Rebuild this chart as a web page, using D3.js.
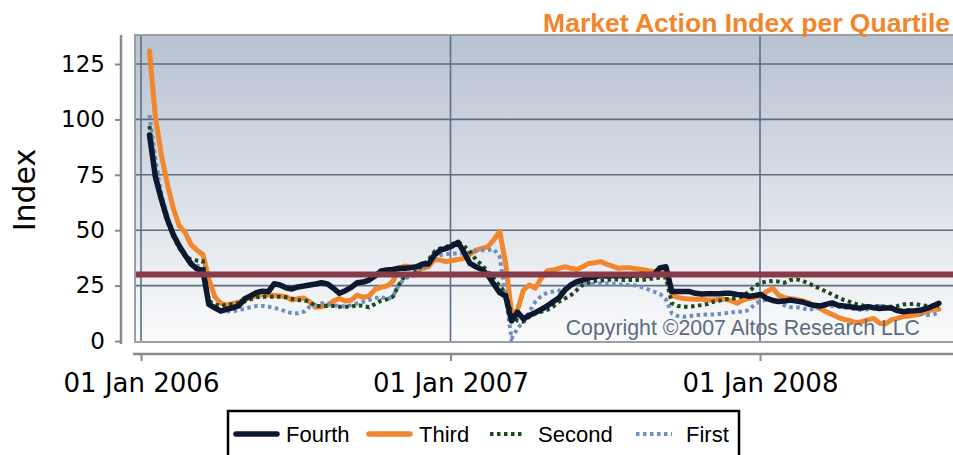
<!DOCTYPE html>
<html>
<head>
<meta charset="utf-8">
<script src="https://cdn.jsdelivr.net/npm/d3@7"></script>
<style>
  body { margin: 0; background: #fff; }
  svg { display: block; }
</style>
</head>
<body>
<div id="chart"></div>
<script>
// Market Action Index per Quartile - weekly values
var startDate = new Date(2006, 0, 11);

var fourth = [93, 74, 64, 55, 48, 43, 38.7, 34.8, 32.6, 31.8,
  16.5, 15, 13.5, 14.3, 15, 15.8, 19, 20.3, 21.8, 22.5,
  22.2, 25.8, 25.3, 24, 23.5, 24.4, 24.8, 25.3, 25.7, 26.3,
  25.7, 23.8, 21.5, 22.7, 24.2, 26.3, 26.6, 27.5, 29.3, 31.6,
  32, 32.3, 32.8, 32.8, 33.1, 33.5, 34.7, 34.7, 38.8, 41,
  41.8, 42.9, 44.5, 40, 35, 33.5, 32.3, 29.8, 25.7, 21.8,
  20.3, 9, 13, 10, 11.6, 12.8, 14.3, 15.8, 17.7, 19.5,
  23, 25.3, 26.8, 27.5, 28.5, 29, 29.5, 29.3, 29.5, 29.5,
  29.5, 29.6, 29.8, 30, 29.5, 30, 33, 33.5, 22.3, 22.3,
  22.3, 22.3, 21.5, 21.2, 21.3, 21.3, 21.3, 21.5, 21.5, 21,
  20.8, 20.2, 20.5, 21, 19.2, 18.3, 17.8, 18, 18.5, 18,
  17.6, 16.7, 16.1, 15.8, 16.5, 17.2, 16.1, 15.8, 15.5, 15,
  14.9, 15.5, 15, 14.7, 14.9, 14.9, 13.7, 13.2, 13.5, 13.7,
  14, 14.7, 15.8, 17];

var third = [131, 101, 84, 71, 60, 52, 49, 43.5, 41, 39,
  28, 20, 17, 16.3, 16.7, 17.6, 18.5, 19.7, 20.3, 20.8,
  20.8, 20.5, 20.3, 20, 18.5, 19.1, 19.4, 17.7, 15.2, 15.5,
  16.2, 18, 19.2, 18, 18.5, 20.7, 19.7, 20.3, 23.3, 24.2,
  24.8, 26.8, 32.8, 33.8, 33.5, 32.8, 32.8, 33.5, 36.8, 36.5,
  35.8, 36.3, 36.8, 37.3, 39.2, 41, 41.8, 42.5, 45.6, 49.5,
  35, 13, 14, 23, 25.3, 23.8, 28.3, 31.7, 32, 32.8,
  33.5, 32.8, 32.3, 33.5, 35, 35.3, 35.8, 34.7, 33.8, 32.8,
  33.1, 33, 32.6, 32.3, 31.7, 31.4, 31.7, 31.4, 20.7, 19.7,
  19.2, 19, 18.8, 18.8, 18.5, 18.5, 18.8, 18.8, 18.2, 17,
  18.5, 19.2, 19.7, 20.3, 22.3, 23.8, 20.7, 19.5, 19.1, 18.8,
  18.2, 17.3, 15.8, 14.6, 13.2, 12, 10.7, 9.8, 9.2, 8.3,
  8.7, 9.5, 10.2, 8, 7.7, 9.5, 10.2, 11, 11.3, 11.7,
  12.2, 13.2, 14.3, 14.3];

var second = [97, 76, 63, 54, 47.5, 42, 38.3, 36.8, 36.3, 36,
  18, 16.5, 15.8, 16.3, 16.7, 17, 17.8, 18.8, 19.7, 20,
  20, 20, 20, 19.7, 19.1, 18.5, 18.4, 17.7, 15.8, 15.8,
  15.8, 15.8, 15.5, 15.5, 15.5, 16.2, 15.8, 15.2, 16.7, 18.2,
  18.8, 20, 25.3, 29.3, 30.5, 31.3, 34.3, 36.5, 40.3, 41.8,
  42.5, 43.8, 44.6, 42.9, 40.3, 36.8, 34.3, 31.3, 28.3, 24.8,
  21.8, 12, 9.2, 8.7, 11, 12.8, 13.2, 14, 15.5, 17.7,
  19.2, 20.7, 23, 25.3, 26.3, 27.1, 27.2, 27.5, 27.8, 27.8,
  27.5, 27.5, 27.5, 27.5, 27.8, 28.3, 28.7, 28.7, 17, 15.8,
  15.5, 15.5, 15.8, 16.2, 16.7, 17.7, 18.2, 18.8, 19.1, 19.5,
  20.3, 22.3, 24.8, 26.3, 26.8, 27.1, 26.8, 26.3, 27.5, 27.8,
  27.2, 26, 24.8, 23.6, 22.3, 21, 19.7, 18.5, 17.7, 16.7,
  16.1, 15.5, 15.5, 15.8, 15.5, 15.5, 15.8, 16.5, 16.7, 16.7,
  16.2, 15.8, 16, 15.8];

var first = [102, 82, 66, 56, 49, 43, 38.5, 35.5, 34, 33.5,
  18, 16, 14, 13.3, 13.3, 14, 14.5, 15.2, 15.8, 15.8,
  15.5, 15, 14.3, 13.3, 12.5, 12.5, 13.2, 15.5, 16.2, 17,
  16.8, 16.1, 15.8, 15.5, 16.2, 17, 17.7, 18.5, 19.2, 20,
  18.8, 20, 25.3, 28.3, 29.3, 29.8, 32.8, 35, 37.7, 38.8,
  39.2, 39.5, 39.5, 39.5, 40, 40.6, 41, 41, 41.4, 38,
  20, 1, 5.7, 8.7, 13.2, 17.7, 20.3, 21.8, 22.3, 22.7,
  24.2, 25, 25.5, 25.5, 25.5, 25.8, 26, 26, 25.8, 25.5,
  25.3, 25.3, 25, 24.2, 23.3, 22.3, 21.2, 18.8, 12.5, 11.3,
  11, 11.2, 11.7, 11.8, 12, 12, 12.2, 12.5, 12.9, 13.2,
  13.2, 14, 16.7, 18.2, 18.5, 18.3, 17.7, 16, 15.2, 15.2,
  14.9, 14, 14.6, 15.5, 15.8, 15.8, 15.5, 15.2, 14.7, 14.3,
  14, 14.3, 15.2, 15.8, 15.2, 14.6, 14, 14, 14, 13.5,
  12.5, 11.7, 12, 12.8];

var threshold = 30;
var yTicks = [0, 25, 50, 75, 100, 125];
var xTicks = [new Date(2006, 0, 1), new Date(2007, 0, 1), new Date(2008, 0, 1)];
var seriesNames = ["Fourth", "Third", "Second", "First"];

var dates = fourth.map((d, i) => d3.timeDay.offset(startDate, 7 * i));

var svgWidth = 953;
var svgHeight = 455;

var plot = { left: 135, top: 35, right: 953, bottom: 342 };

var svg = d3.select("#chart")
  .append("svg")
  .attr("width", svgWidth)
  .attr("height", svgHeight)
  .style("font-family", "'DejaVu Sans', sans-serif");

var xScale = d3.scaleTime()
  .domain([new Date(2006, 0, 1), new Date(2007, 0, 1)])
  .range([141, 450.5]);

var yScale = d3.scaleLinear()
  .domain([0, 125])
  .range([341, 64]);

// background gradient
var defs = svg.append("defs");
var grad = defs.append("linearGradient")
  .attr("id", "bg")
  .attr("x1", 0).attr("y1", 0).attr("x2", 0).attr("y2", 1);
grad.append("stop").attr("offset", "0%").attr("stop-color", "#b7c2d0");
grad.append("stop").attr("offset", "100%").attr("stop-color", "#fafbfc");

defs.append("clipPath").attr("id", "clip")
  .append("rect")
  .attr("x", plot.left).attr("y", plot.top)
  .attr("width", plot.right - plot.left).attr("height", plot.bottom - plot.top);

svg.append("rect")
  .attr("x", plot.left)
  .attr("y", plot.top)
  .attr("width", plot.right - plot.left)
  .attr("height", plot.bottom - plot.top)
  .attr("fill", "url(#bg)");

// grid
var grid = svg.append("g");
grid.selectAll("line.h")
  .data(yTicks.filter(d => d > 0))
  .join("line")
  .attr("x1", plot.left).attr("x2", plot.right)
  .attr("y1", d => yScale(d)).attr("y2", d => yScale(d))
  .attr("stroke", "#5d6d82")
  .attr("stroke-width", 1.6);

grid.selectAll("line.v")
  .data(xTicks)
  .join("line")
  .attr("x1", d => xScale(d)).attr("x2", d => xScale(d))
  .attr("y1", plot.top).attr("y2", plot.bottom)
  .attr("stroke", "#5d6d82")
  .attr("stroke-width", 1.6);

// plot frame
svg.append("path")
  .attr("d", `M${plot.right},${plot.top}H${plot.left}V${plot.bottom}H${plot.right}`)
  .attr("fill", "none")
  .attr("stroke", "#9a9fa6")
  .attr("stroke-width", 2);

// lines
var line = d3.line()
  .x((d, i) => xScale(dates[i]))
  .y(d => yScale(d));

var lines = svg.append("g").attr("clip-path", "url(#clip)");

lines.append("path").datum(third)
  .attr("d", line).attr("fill", "none")
  .attr("stroke", "#f2862c").attr("stroke-width", 5)
  .attr("stroke-linejoin", "round").attr("stroke-linecap", "round");

lines.append("path").datum(first)
  .attr("d", line).attr("fill", "none")
  .attr("stroke", "#6f8dc2").attr("stroke-width", 4)
  .attr("stroke-dasharray", "3.5,3.5");

lines.append("path").datum(second)
  .attr("d", line).attr("fill", "none")
  .attr("stroke", "#1c4a1c").attr("stroke-width", 4)
  .attr("stroke-dasharray", "3.5,3.5");

lines.append("path").datum(fourth)
  .attr("d", line).attr("fill", "none")
  .attr("stroke", "#0b1830").attr("stroke-width", 5.5)
  .attr("stroke-linejoin", "round").attr("stroke-linecap", "round");

// threshold line
svg.append("line")
  .attr("x1", plot.left + 1).attr("x2", plot.right)
  .attr("y1", yScale(threshold)).attr("y2", yScale(threshold))
  .attr("stroke", "#873a49")
  .attr("stroke-width", 6);

// copyright
svg.append("text")
  .attr("x", 920)
  .attr("y", 335)
  .attr("text-anchor", "end")
  .style("font-family", "'Liberation Sans', Arial, sans-serif")
  .style("font-size", "21.3px")
  .attr("fill", "#5b6b80")
  .text("Copyright \u00a92007 Altos Research LLC");

// y axis
var yAxis = svg.append("g")
  .attr("transform", "translate(121,0)")
  .call(d3.axisLeft(yScale).tickValues(yTicks).tickSize(6).tickPadding(10));
yAxis.select(".domain")
  .attr("d", `M0,${plot.top}V${plot.bottom + 2}`)
  .attr("stroke", "#8a8a8a").attr("stroke-width", 2.5);
yAxis.selectAll(".tick line").attr("stroke", "#8a8a8a").attr("stroke-width", 2);
yAxis.selectAll(".tick text")
  .style("font-family", "'DejaVu Sans', sans-serif")
  .style("font-size", "23px")
  .attr("fill", "#000");

// x axis
var xAxis = svg.append("g")
  .attr("transform", "translate(0,354)")
  .call(d3.axisBottom(xScale).tickValues(xTicks).tickSize(7).tickPadding(13)
    .tickFormat(d3.timeFormat("%d %b %Y")));
xAxis.select(".domain")
  .attr("d", `M133,0H${svgWidth}`)
  .attr("stroke", "#8a8a8a").attr("stroke-width", 2.5);
xAxis.selectAll(".tick line").attr("stroke", "#8a8a8a").attr("stroke-width", 2);
xAxis.selectAll(".tick text")
  .style("font-family", "'DejaVu Sans', sans-serif")
  .style("font-size", "26px")
  .attr("fill", "#000");

// y label
svg.append("text")
  .attr("transform", "translate(35,190) rotate(-90)")
  .attr("text-anchor", "middle")
  .style("font-family", "'DejaVu Sans', sans-serif")
  .style("font-size", "30px")
  .attr("fill", "#000")
  .text("Index");

// title
svg.append("text")
  .attr("x", 950)
  .attr("y", 32)
  .attr("text-anchor", "end")
  .style("font-family", "'Liberation Sans', Arial, sans-serif")
  .style("font-weight", "bold")
  .style("font-size", "26.5px")
  .attr("fill", "#f2862c")
  .text("Market Action Index per Quartile");

// legend
var legend = svg.append("g");
legend.append("rect")
  .attr("x", 228).attr("y", 411)
  .attr("width", 511).attr("height", 60)
  .attr("fill", "#fff")
  .attr("stroke", "#000")
  .attr("stroke-width", 2.5);

var legendItems = [
  { name: seriesNames[0], x: 236, len: 41, color: "#0b1830", dash: null, w: 5.5 },
  { name: seriesNames[1], x: 369, len: 41, color: "#f2862c", dash: null, w: 5.5 },
  { name: seriesNames[2], x: 490, len: 34, color: "#1c4a1c", dash: "3.5,3.5", w: 4 },
  { name: seriesNames[3], x: 636, len: 36, color: "#6f8dc2", dash: "3.5,3.5", w: 4 }
];

legendItems.forEach(function(item) {
  legend.append("line")
    .attr("x1", item.x).attr("x2", item.x + item.len)
    .attr("y1", 434).attr("y2", 434)
    .attr("stroke", item.color)
    .attr("stroke-width", item.w)
    .attr("stroke-linecap", item.dash ? "butt" : "round")
    .attr("stroke-dasharray", item.dash);
  legend.append("text")
    .attr("x", item.x + item.len + (item.dash ? 14 : 9))
    .attr("y", 442)
    .style("font-family", "'Liberation Sans', Arial, sans-serif")
    .style("font-size", "22px")
    .attr("fill", "#000")
    .text(item.name);
});
</script>
</body>
</html>
